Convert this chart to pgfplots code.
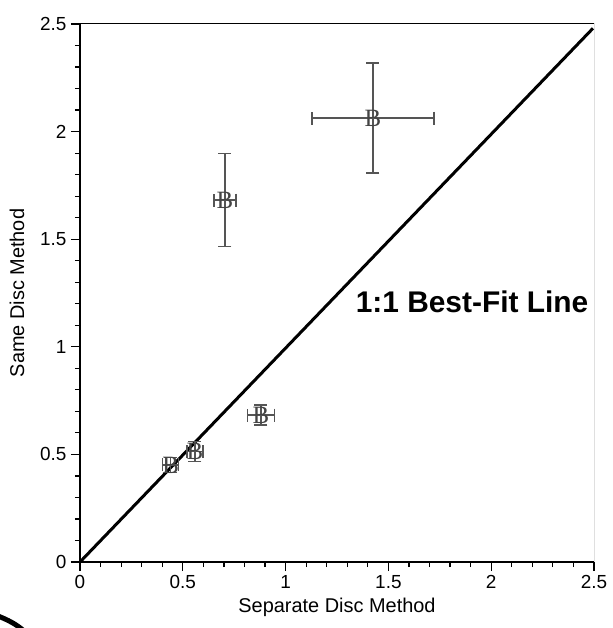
\documentclass[border=0pt]{standalone}
\usepackage{pgfplots}
\pgfplotsset{compat=1.18}
\usepackage{fontspec}
\setmainfont{Liberation Sans}
\newfontfamily\serifB{Liberation Serif}
\definecolor{errgray}{HTML}{555555}
\definecolor{markgray}{HTML}{444444}

\pgfplotstableread{
x y ex ey
1.425 2.063 0.297 0.256
0.705 1.682 0.053 0.216
0.880 0.683 0.066 0.046
0.559 0.513 0.039 0.046
0.441 0.451 0.039 0.035
}\datatable

\begin{document}
\begin{tikzpicture}
\path[use as bounding box] (-80bp,-66bp) rectangle (533bp,562bp);
\begin{axis}[
  at={(0,0)}, anchor=south west,
  scale only axis, width=514bp, height=538bp,
  xmin=0, xmax=2.5, ymin=0, ymax=2.5,
  axis lines=left,
  axis line style={-, line width=1.6bp},
  xtick={0,0.5,1,1.5,2,2.5}, ytick={0,0.5,1,1.5,2,2.5},
  minor tick num=4,
  tick align=outside,
  major tick length=9bp, minor tick length=5bp,
  every tick/.style={black, line width=1.2bp},
  tick label style={font=\fontsize{19}{22}\selectfont},
  /pgf/number format/assume math mode=true,
  xticklabel style={yshift=-1bp},
  yticklabel style={xshift=-1bp},
  label style={font=\fontsize{20}{24}\selectfont},
  xlabel={Separate Disc Method},
  ylabel={Same Disc Method},
  xlabel style={at={(axis description cs:0.5,-0.0836)}, anchor=center},
  ylabel style={at={(axis description cs:-0.1226,0.5)}, anchor=center},
  clip=true,
]
\draw[line width=1bp] (rel axis cs:0,1) -- (rel axis cs:1,1) -- (rel axis cs:1,0);
\addplot[black, line width=3bp] coordinates {(0,0) (2.495,2.48)};
\addplot[only marks, mark=text, text mark={B}, text mark as node=true,
  text mark style={font=\serifB\fontsize{25}{25}\selectfont, text=markgray},
  error bars/.cd, x dir=both, x explicit, y dir=both, y explicit,
  error bar style={line width=1.4bp, color=errgray},
  error mark options={rotate=90, line width=1.4bp, mark size=6.5bp, color=errgray}]
  table[x=x, y=y, x error=ex, y error=ey] {\datatable};
\node[font=\bfseries\fontsize{30}{34}\selectfont] at (axis cs:1.907,1.208) {1:1 Best-Fit Line};
\end{axis}
\draw[line width=5bp] (-82bp,-54bp) .. controls (-72bp,-58bp) and (-64bp,-62bp) .. (-56bp,-69bp);
\end{tikzpicture}
\end{document}
